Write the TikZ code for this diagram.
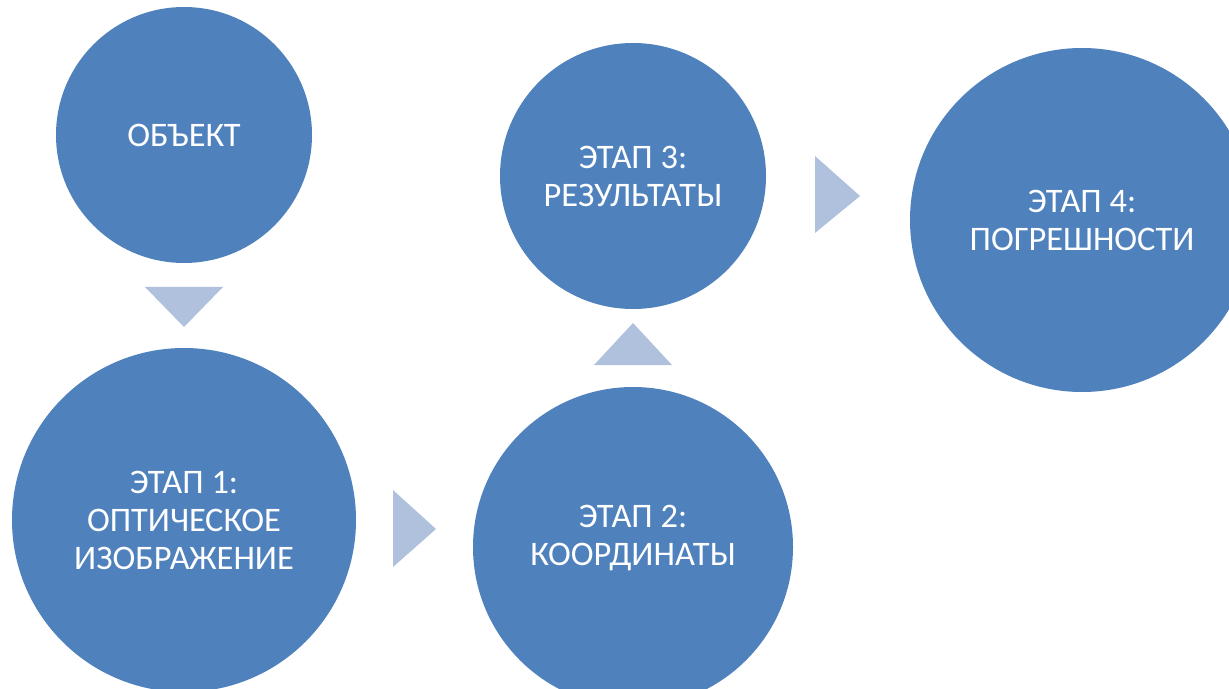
\documentclass[tikz,border=0pt]{standalone}
\usepackage{fontspec}
\setmainfont{Carlito}
\usepackage{tikz}

\definecolor{stageblue}{HTML}{4F81BD}
\definecolor{arrowblue}{HTML}{B0C1DE}

\begin{document}
\begin{tikzpicture}[x=0.5pt,y=-0.5pt,
    stage/.style={circle,fill=stageblue,inner sep=0pt},
    stagetext/.style={text=white,align=center,font=\fontsize{17.2}{19}\selectfont},
    arrowtri/.style={fill=arrowblue}]
  \clip (0,0) rectangle (1229,689);
  \node[stage,minimum size=128pt] (obj) at ( 184,135) {};
  \node[stage,minimum size=172pt] (st1) at ( 184,520) {};
  \node[stage,minimum size=160pt] (st2) at ( 633,547) {};
  \node[stage,minimum size=133pt] (st3) at ( 633,176) {};
  \node[stage,minimum size=172pt] (st4) at (1082,220) {};
  \node[stagetext] (objtext) at (obj) {ОБЪЕКТ};
  \node[stagetext] (st1text) at (st1) {ЭТАП 1:\\ОПТИЧЕСКОЕ\\ИЗОБРАЖЕНИЕ};
  \node[stagetext] (st2text) at ([yshift=4.5pt]st2) {ЭТАП 2:\\КООРДИНАТЫ};
  \node[stagetext] (st3text) at (st3) {ЭТАП 3:\\РЕЗУЛЬТАТЫ};
  \node[stagetext] (st4text) at (st4) {ЭТАП 4:\\ПОГРЕШНОСТИ};
  \fill[arrowtri] (145,287) -- (223,287) -- (184,327) -- cycle;
  \fill[arrowtri] (393,490) -- (393,567) -- (436,529) -- cycle;
  \fill[arrowtri] (594,365) -- (672,365) -- (633,323) -- cycle;
  \fill[arrowtri] (815,156) -- (815,233) -- (860,196) -- cycle;
\end{tikzpicture}
\end{document}
